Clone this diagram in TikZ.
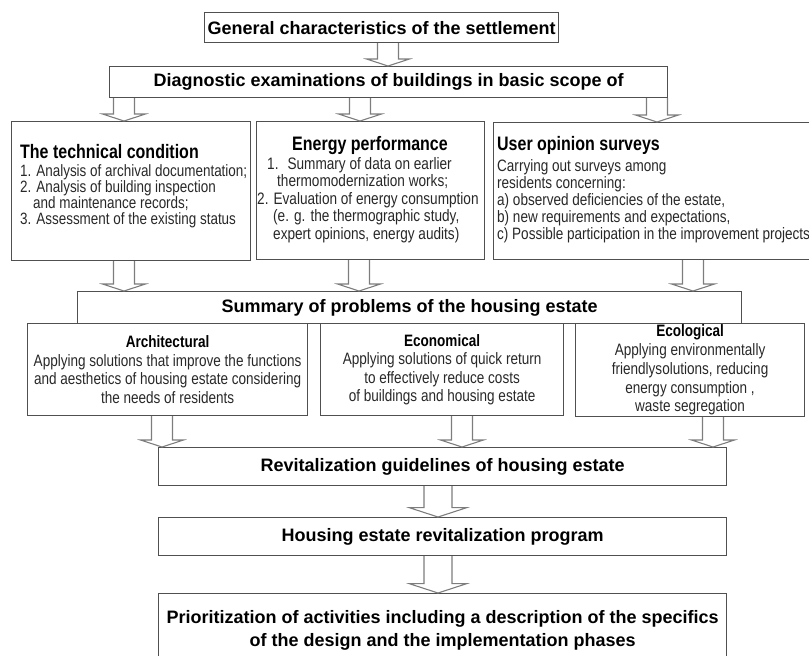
\documentclass[tikz,border=0pt]{standalone}
\usepackage{fontspec}
\setmainfont{Liberation Sans}
\newfontfamily\narrowfont{Liberation Sans}[FakeStretch=0.82]
\usetikzlibrary{calc}
\definecolor{boxline}{RGB}{80,80,80}
\definecolor{arrowline}{RGB}{125,125,125}
\definecolor{bodyink}{RGB}{40,40,40}

% block arrow: [scale] centre x, from node, to node
\newcommand{\flowarrow}[4][1]{%
  \draw [blockarrow] let \p1=(#3.south), \p2=(#4.north) in
    (#2pt-10.5pt*#1,\y1) -- (#2pt-10.5pt*#1,\y2+7pt*#1) -- (#2pt-21.5pt*#1,\y2+7pt*#1) -- (#2pt,\y2)
    -- (#2pt+21.5pt*#1,\y2+7pt*#1) -- (#2pt+10.5pt*#1,\y2+7pt*#1) -- (#2pt+10.5pt*#1,\y1);%
}

\begin{document}
\begin{tikzpicture}[x=1pt, y=-1pt,
  box/.style={draw=boxline, line width=1.2pt, rectangle, inner sep=0pt, anchor=north west},
  blockarrow/.style={draw=arrowline, line width=1.1pt, line join=miter},
  headfont/.style={font=\bfseries\fontsize{18}{20}\selectfont},
  titlefont/.style={font=\narrowfont\bfseries\fontsize{19.5}{20}\selectfont},
  bodytext/.style={anchor=base west, inner sep=0pt, align=left, text=bodyink}]
  \useasboundingbox (0,0) rectangle (809,656);

  % Drawing box general characteristics
  \node (general) [box, headfont, minimum width=354pt, minimum height=30pt] at (204,12) {General characteristics of the settlement};

  % Drawing box diagnostic examinations
  \node (diag) [box, headfont, minimum width=558pt, minimum height=31pt] at (109,66) {Diagnostic examinations of buildings in basic scope of};

  % Drawing boxes of the three scopes
  \node (tech) [box, minimum width=239pt, minimum height=139pt] at (11,121) {};
  \node (energy) [box, minimum width=228pt, minimum height=138pt] at (256,121) {};
  \node (user) [box, minimum width=340pt, minimum height=137pt] at (493,122) {};

  % Marking texts of the technical condition (base = last line)
  \node (techtitle) [bodytext, titlefont, text=black] at (20,158) {The technical condition};
  \node (techlist) [bodytext, font=\narrowfont\fontsize{16.4}{16}\selectfont] at (20,224) {1. Analysis of archival documentation;\\2. Analysis of building inspection\\\hspace*{13pt}and maintenance records;\\3. Assessment of the existing status};

  % Marking texts of the energy performance
  \node (energytitle) [anchor=base, inner sep=0pt, titlefont] at (370,150) {Energy performance};
  \node (energylist) [bodytext, font=\narrowfont\fontsize{16.6}{17.5}\selectfont] at (257,239) {\hspace*{10pt}1.\hspace{9pt}Summary of data on earlier\\\hspace*{20pt}thermomodernization works;\\2. Evaluation of energy consumption\\\hspace*{16pt}(e. g. the thermographic study,\\\hspace*{16pt}expert opinions, energy audits)};

  % Marking texts of the user opinion surveys
  \node (usertitle) [bodytext, titlefont, text=black] at (497,150) {User opinion surveys};
  \node (userlist) [bodytext, font=\narrowfont\fontsize{16.5}{17}\selectfont] at (497,239) {Carrying out surveys among\\residents concerning:\\a) observed deficiencies of the estate,\\b) new requirements and expectations,\\c) Possible participation in the improvement projects};

  % Drawing box summary of problems
  \node (summary) [box, headfont, minimum width=664pt, minimum height=32pt] at (77,291) {Summary of problems of the housing estate};

  % Drawing boxes of the three problem groups
  \node (arch) [box, align=center, text=bodyink, font=\narrowfont\fontsize{16.5}{18.5}\selectfont, minimum width=280pt, minimum height=92pt] at (27,323) {\textcolor{black}{\textbf{Architectural}}\\Applying solutions that improve the functions\\and aesthetics of housing estate considering\\the needs of residents};
  \node (econ) [box, align=center, text=bodyink, font=\narrowfont\fontsize{16.5}{18.5}\selectfont, minimum width=243pt, minimum height=92pt] at (320,323) {\textcolor{black}{\textbf{Economical}}\\Applying solutions of quick return\\to effectively reduce costs\\of buildings and housing estate};
  \node (eco) [box, align=center, text=bodyink, font=\narrowfont\fontsize{16.5}{18.7}\selectfont, minimum width=229pt, minimum height=93pt] at (575,323) {\textcolor{black}{\textbf{Ecological}}\\Applying environmentally\\friendlysolutions, reducing\\energy consumption ,\\waste segregation};

  % Drawing boxes of guidelines, program and priorities
  \node (revit) [box, headfont, minimum width=568pt, minimum height=38pt] at (158,447) {Revitalization guidelines of housing estate};
  \node (program) [box, headfont, minimum width=568pt, minimum height=38pt] at (158,517) {Housing estate revitalization program};
  \node (prior) [box, align=center, font=\bfseries\fontsize{18}{23}\selectfont, minimum width=568pt, minimum height=74pt] at (158,593) {Prioritization of activities including a description of the specifics\\of the design and the implementation phases};

  % Drawing block arrows
  \flowarrow{388}{general}{diag}
  \flowarrow{124}{diag}{tech}
  \flowarrow{360}{diag}{energy}
  \flowarrow{657}{diag}{user}
  \flowarrow{124}{tech}{summary}
  \flowarrow{359}{energy}{summary}
  \flowarrow{693}{user}{summary}
  \flowarrow{162}{arch}{revit}
  \flowarrow{462}{econ}{revit}
  \flowarrow{713}{eco}{revit}
  \flowarrow[1.33]{438}{revit}{program}
  \flowarrow[1.33]{438}{program}{prior}
\end{tikzpicture}
\end{document}
